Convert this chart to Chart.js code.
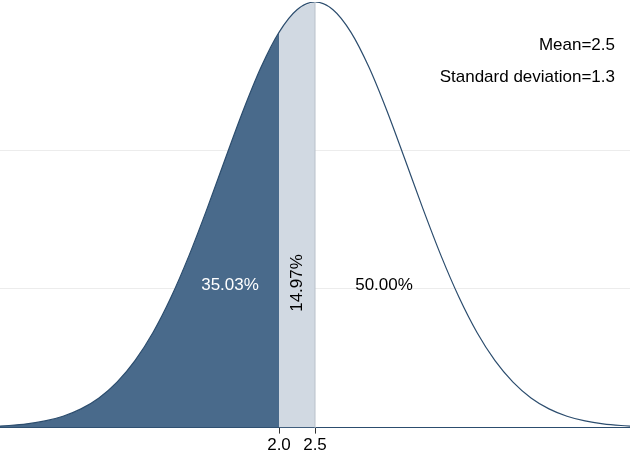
<!DOCTYPE html>
<html><head><meta charset="utf-8">
<script src="https://cdn.jsdelivr.net/npm/chart.js@4/dist/chart.umd.min.js"></script>
<style>html,body{margin:0;padding:0;background:#fff}#wrap{width:630px;height:458px}</style>
</head><body><div id="wrap"><canvas id="c"></canvas></div>
<script>
const xValues = [-2,-1.75,-1.5,-1.25,-1,-0.75,-0.5,-0.25,0,0.25,0.5,0.75,1,1.25,1.5,1.75,2,2.25,2.5,2.75,3,3.25,3.5,3.75,4,4.25,4.5,4.75,5,5.25,5.5,5.75,6,6.25,6.5,6.75,7];
const density = [0.0008,0.0015,0.0027,0.0048,0.0082,0.0135,0.0214,0.0328,0.0483,0.0686,0.0940,0.1240,0.1577,0.1933,0.2283,0.2598,0.2850,0.3013,0.3069,0.3013,0.2850,0.2598,0.2283,0.1933,0.1577,0.1240,0.0940,0.0686,0.0483,0.0328,0.0214,0.0135,0.0082,0.0048,0.0027,0.0015,0.0008];
const xTicks = [2, 2.5];
const cut = 2, mean = 2.5;
const notes = ['Mean=2.5', 'Standard deviation=1.3'];
const shares = ['35.03%', '14.97%', '50.00%'];

const pts = xValues.map((x,i)=>({x, y: density[i]}));
const leftPts = pts.filter(p=>p.x<=cut);
const bandPts = pts.filter(p=>p.x>=cut && p.x<=mean);

const textPlugin = {
  id:'txt',
  afterDatasetsDraw(chart){
    const {ctx, scales:{x,y}} = chart;
    ctx.save();
    // line at mean
    ctx.strokeStyle='#b8c0ca'; ctx.lineWidth=1;
    ctx.beginPath(); ctx.moveTo(x.getPixelForValue(mean), y.getPixelForValue(0));
    ctx.lineTo(x.getPixelForValue(mean), y.getPixelForValue(0.3069)); ctx.stroke();
    ctx.font='17px "Liberation Sans", Arial, sans-serif';
    ctx.textBaseline='middle';
    ctx.fillStyle='#000'; ctx.textAlign='right';
    ctx.fillText(notes[0], 615, 45);
    ctx.fillText(notes[1], 615, 77);
    ctx.textAlign='center';
    ctx.fillStyle='#fff'; ctx.fillText(shares[0], 230, 285);
    ctx.fillStyle='#000'; ctx.fillText(shares[2], 384, 285);
    ctx.translate(297, 283); ctx.rotate(-Math.PI/2);
    ctx.fillText(shares[1], 0, 0);
    ctx.restore();
  }
};

new Chart(document.getElementById('c'), {
  type:'line',
  data:{datasets:[
    {data:pts, borderColor:'#2c4d6e', borderWidth:1.2, pointRadius:0, fill:false, cubicInterpolationMode:'monotone'},
    {data:leftPts, borderWidth:0, pointRadius:0, fill:'origin', backgroundColor:'#496a8b', cubicInterpolationMode:'monotone'},
    {data:bandPts, borderWidth:0, pointRadius:0, fill:'origin', backgroundColor:'#d1d9e2', cubicInterpolationMode:'monotone'}
  ]},
  options:{
    responsive:true, maintainAspectRatio:false, animation:false,
    layout:{padding:{top:2,left:0,right:0}},
    plugins:{legend:{display:false}, tooltip:{enabled:false}},
    scales:{
      x:{type:'linear', min:-1.875, max:6.875,
         afterBuildTicks(s){ s.ticks = xTicks.map(v=>({value:v})); },
         ticks:{color:'#000', font:{size:17, family:'"Liberation Sans", Arial, sans-serif'}, padding:2, maxRotation:0, autoSkip:false},
         grid:{drawOnChartArea:false, tickLength:6, color:'#333'},
         border:{color:'#2c4d6e', width:1}},
      y:{min:0, max:0.3069,
         afterBuildTicks(s){ s.ticks=[{value:0.1},{value:0.2}]; },
         afterFit(s){ s.width=0; },
         ticks:{display:false},
         grid:{color:'#ececec', drawTicks:false},
         border:{display:false}}
    }
  },
  plugins:[textPlugin]
});
</script></body></html>
